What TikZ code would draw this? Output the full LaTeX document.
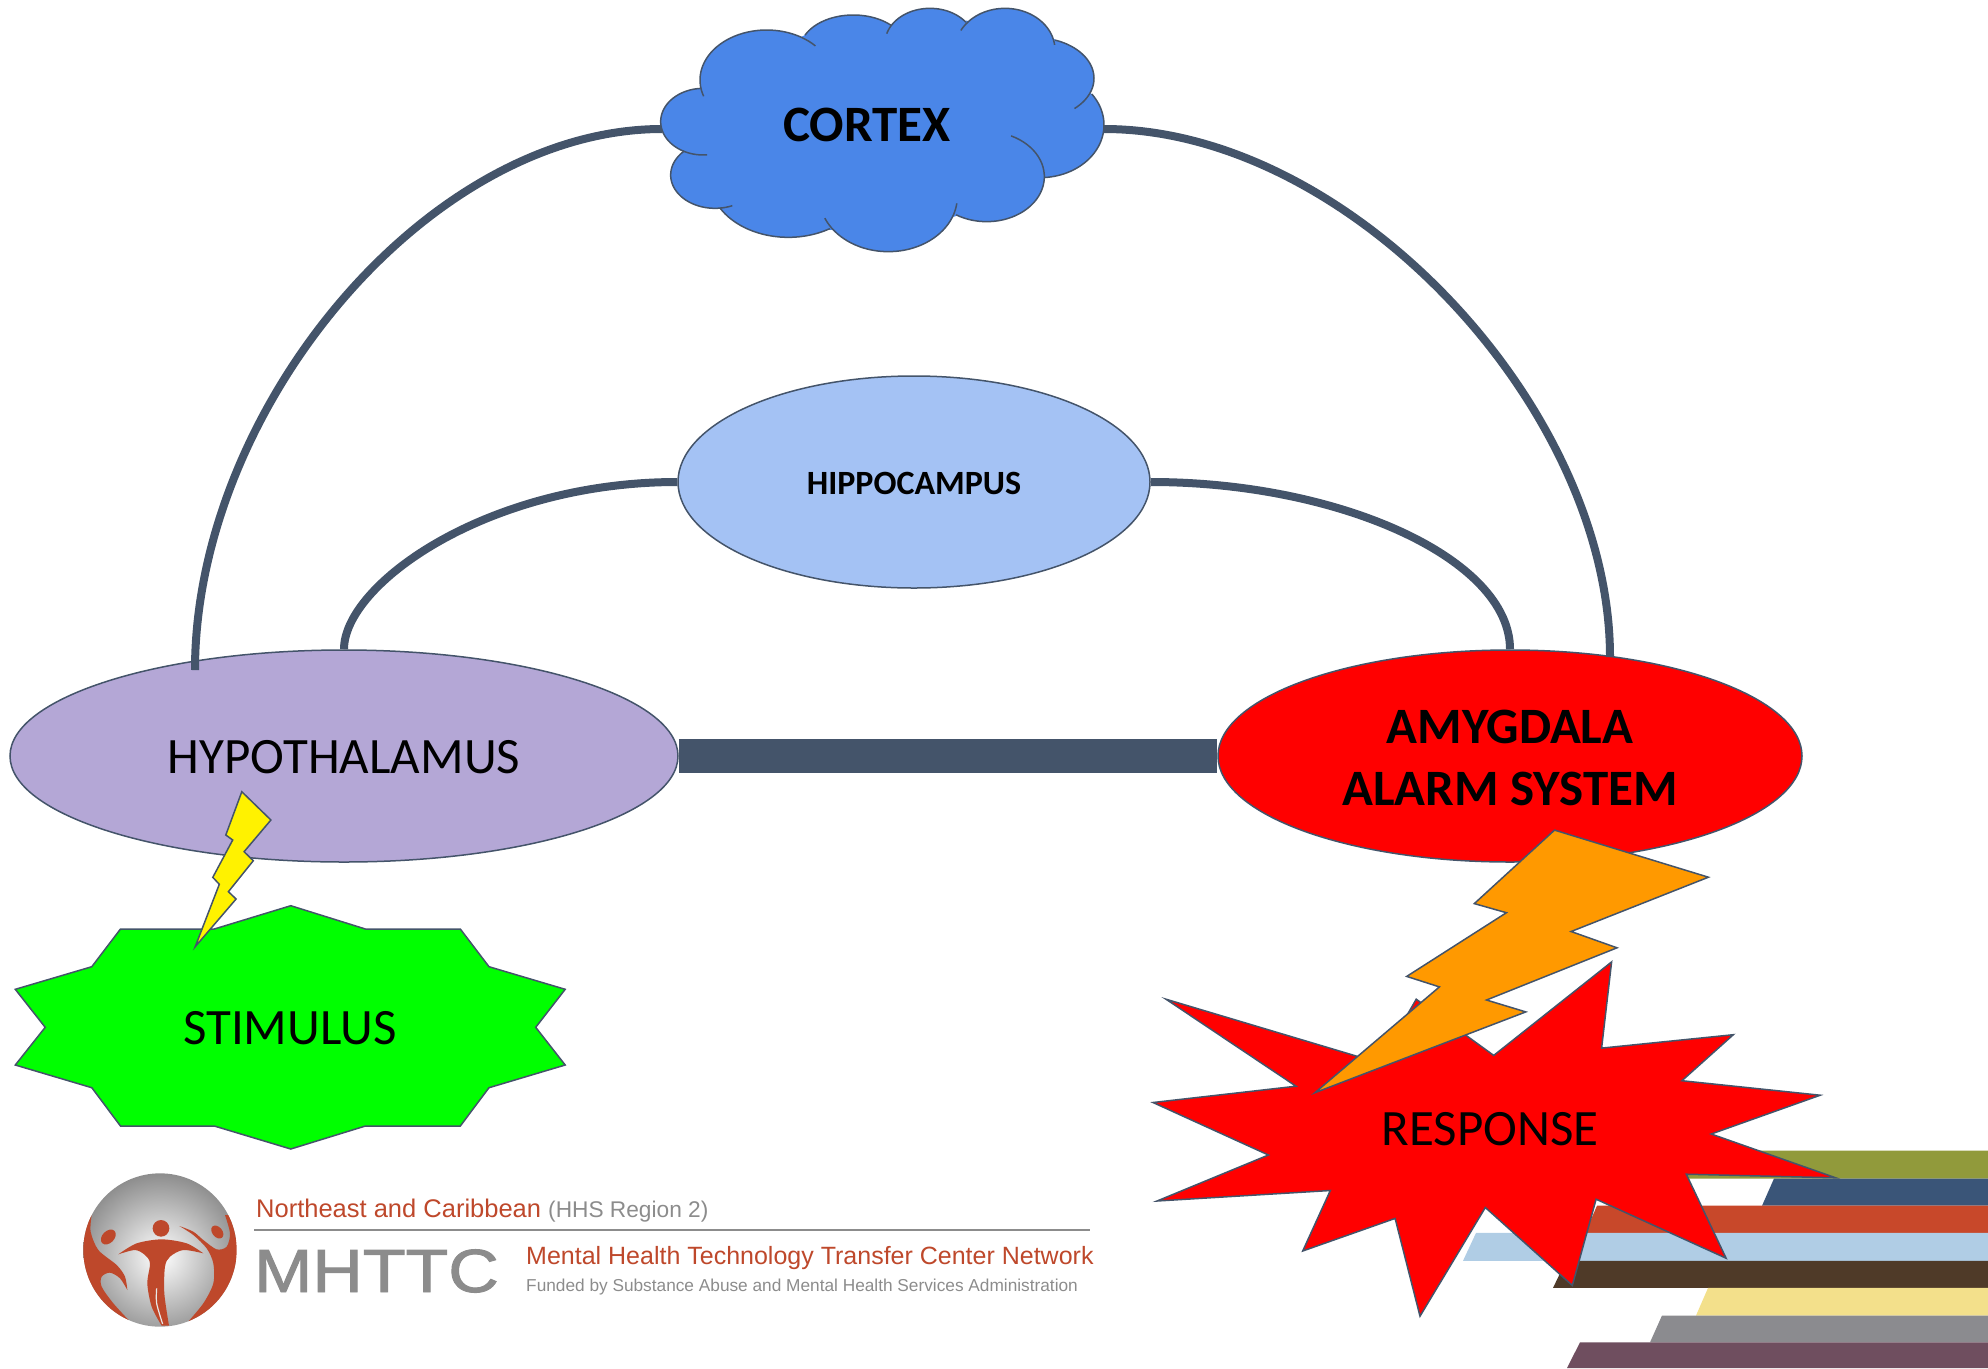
\documentclass[tikz,border=0pt]{standalone}
\usepackage{fontspec}
\setmainfont{Carlito}
\newfontfamily\logofont{Liberation Sans}
\newfontfamily\logoheavy[FakeBold=1.5]{Liberation Sans}
\usetikzlibrary{shapes.geometric}
\definecolor{slateLine}{HTML}{44546A}
\definecolor{cortexBlue}{HTML}{4A86E8}
\definecolor{hippoBlue}{HTML}{A4C2F4}
\definecolor{hypoPurple}{HTML}{B4A7D6}
\definecolor{boltOrange}{HTML}{FF9900}
\definecolor{logoRust}{HTML}{BE482B}
\definecolor{logoGray}{HTML}{8C8C8C}
\tikzset{%
  % Specifications for style of nodes:
     region/.style = {ellipse, draw=slateLine, line width=1.5pt, inner sep=0pt,
                      align=center},
   plainTxt/.style = {font=\fontsize{51}{60}\selectfont},
    boldTxt/.style = {font=\fontsize{51}{61.6}\selectfont\bfseries},
      burst/.style = {draw=slateLine, line width=1.5pt, line join=miter},
       link/.style = {draw=slateLine, line width=8pt},
    logoTxt/.style = {inner sep=0pt, anchor=base west},
}
\newcommand{\lowered}[2]{\raisebox{-#1pt}[\height][\depth]{#2}}
% lobes of the cloud: centre, radii, start and end angle
\newcommand{\cloudLobes}{%
  \lobe{380}{240}{200}{150}{161}{317}
  \lobe{640}{150}{160}{105}{205}{315}
  \lobe{870}{130}{135}{105}{196}{323}
  \lobe{1095}{150}{150}{125}{208}{353}
  \lobe{1185}{235}{177}{122}{290}{408}
  \lobe{1200}{375}{192}{158}{-36}{86}
  \lobe{1040}{530}{173}{135}{-65}{122}
  \lobe{745}{590}{207}{165}{7}{157}
  \lobe{445}{540}{235}{172}{58}{151}
  \lobe{225}{525}{133}{100}{67}{226}
  \lobe{190}{365}{128}{100}{85}{266}
}
\begin{document}
\begin{tikzpicture}[x=1pt, y=-1pt]
  \useasboundingbox (0,0) rectangle (1988,1368);
  % Colour bars at the lower right
  \foreach \ytop/\ybot/\xtop/\xbot/\barcol in {
      1150.6/1178.5/1698/1686/919A3B, 1178.5/1205.7/1774/1762/3A5578,
      1205.7/1232.9/1597/1585/C8482A, 1232.9/1260.8/1476/1463/B0CDE5,
      1260.8/1287.9/1566/1553/4F3A28, 1287.9/1315.5/1708/1696/F3E08B,
      1315.5/1342.3/1662/1650/8B8B8F, 1342.3/1368/1580/1567/6F4E5F}{
    \definecolor{barcol}{HTML}{\barcol}
    \fill[barcol] (\xtop,\ytop) -- (1988,\ytop) -- (1988,\ybot) -- (\xbot,\ybot) -- cycle;
  }
  % Specification of nodes (position, etc.)
  \node (hypothalamus) [region, fill=hypoPurple, minimum width=668pt, minimum height=212pt, plainTxt] at (344,756) {\lowered{1}{HYPOTHALAMUS}};
  \node (amygdala) [region, fill=red, minimum width=584pt, minimum height=212pt, boldTxt] at (1510,756) {\lowered{2}{AMYGDALA}\\\lowered{2}{ALARM SYSTEM}};
  \node (hippocampus) [region, fill=hippoBlue, minimum width=472pt, minimum height=212pt, font=\fontsize{34}{40}\selectfont\bfseries] at (914,482) {\lowered{1}{HIPPOCAMPUS}};
  \coordinate (hypoTop) at (195,670);
  \coordinate (amygTop) at (1610,657);
  \coordinate (cortexW) at (662,129);
  \coordinate (cortexE) at (1104,129);
  % Specification of lines between nodes specified above
  \draw[link] (hypoTop) .. controls +(0,-260) and +(-235,0) .. (cortexW);
  \draw[link] (cortexE) .. controls +(245,0) and +(0,-250) .. (amygTop);
  \draw[link] (hypothalamus.north) .. controls +(0,-65) and +(-190,0) .. (hippocampus.west);
  \draw[link] (hippocampus.east) .. controls +(190,0) and +(0,-90) .. (amygdala.north);
  \draw[draw=slateLine, line width=34pt] (hypothalamus.east) -- (amygdala.west);
  % Cortex cloud
  \begin{scope}[shift={(640,0)}, x=0.33333pt, y=-0.33333pt]
    \fill[cortexBlue] (190,268) -- (495,105) -- (752,78) -- (980,62) -- (1245,118) -- (1350,285)
      -- (1212,533) -- (943,650) -- (570,690) -- (240,622) -- (130,452) -- cycle;
    \def\lobe#1#2#3#4#5#6{\fill[cortexBlue] (#1,#2) ellipse[x radius=#3, y radius=#4];}
    \cloudLobes
    \def\lobe#1#2#3#4#5#6{\draw[slateLine, line width=1.5pt] plot[domain=#5:#6, samples=40] ({#1+#3*cos(\x)},{#2+#4*sin(\x)});}
    \cloudLobes
  \end{scope}
  \node (cortex) [font=\fontsize{51}{60}\selectfont\bfseries] at (867,125) {CORTEX};
  % Stimulus star and yellow bolt
  \draw[burst, fill=green] (290.8,905.7) -- (365.4,929) -- (460.3,929) -- (489,966.7) -- (565.2,989.3)
    -- (535.7,1027.3) -- (565.2,1065) -- (489,1087.7) -- (460.3,1126) -- (365.4,1126) -- (290.8,1149)
    -- (214.3,1126) -- (120.5,1126) -- (91.8,1087.7) -- (15.3,1065) -- (45.2,1027.3) -- (15.3,989.3)
    -- (91.8,966.7) -- (120.5,929) -- (214.3,929) -- cycle;
  \node (stimulus) [plainTxt] at (290,1028) {STIMULUS};
  \draw[burst, fill=yellow] (241.8,791.7) -- (270.9,820) -- (244.1,851.7) -- (253.3,860.7) -- (228.4,891.7)
    -- (236.1,899) -- (195.2,946.7) -- (219.3,884.3) -- (212.8,877.3) -- (232.7,840) -- (225.8,835) -- cycle;
  % Response star and orange bolt
  \draw[burst, fill=red] (1611.6,961.9) -- (1601.6,1048.1) -- (1733.3,1034.7) -- (1681.9,1080.7)
    -- (1820.2,1095.2) -- (1711.2,1134) -- (1835.7,1177.8) -- (1686.3,1174.2) -- (1726.1,1258.2)
    -- (1596.1,1199.2) -- (1572.3,1285.4) -- (1485.3,1207.5) -- (1420,1316.2) -- (1395.1,1218.4)
    -- (1302.7,1251) -- (1330.3,1190.5) -- (1157,1201) -- (1268.4,1155) -- (1153,1102.5)
    -- (1296,1086.2) -- (1166,999.2) -- (1379.6,1063) -- (1416.2,999.2) -- (1493.7,1055.4) -- cycle;
  \node (response) [plainTxt] at (1490,1129) {RESPONSE};
  \draw[burst, fill=boltOrange] (1554.5,830.1) -- (1708.4,877.2) -- (1571.1,931.5) -- (1617,947.8)
    -- (1486.5,1000) -- (1525.8,1011.9) -- (1314.9,1092.7) -- (1439.4,986.9) -- (1406.7,976.4)
    -- (1506.4,912.7) -- (1474.3,903.6) -- cycle;
  % Logo ball
  \begin{scope}[shift={(70,1160)}, x=0.33333pt, y=-0.33333pt]
    \clip (270,270) circle[radius=230];
    \shade[inner color=white, outer color=logoGray] (270,290) circle[radius=252];
    \fill[logoRust] plot[smooth] coordinates {(65,165)(62,215)(85,270)(140,315)(165,350)(172,390)}
      -- plot[smooth] coordinates {(172,390)(150,355)(120,338)(95,350)(95,380)(130,430)(185,490)}
      -- (20,490) -- (20,165) -- cycle;
    \fill[logoRust] plot[smooth] coordinates {(465,165)(480,220)(470,260)(440,268)(400,240)(370,215)(328,198)}
      -- plot[smooth] coordinates {(328,198)(370,225)(410,265)(430,310)(430,370)(400,430)(350,490)}
      -- (520,490) -- (520,165) -- cycle;
    \fill[logoRust] plot[smooth] coordinates {(145,283)(200,250)(275,238)(350,250)(400,280)}
      -- plot[smooth] coordinates {(400,280)(340,270)(300,290)(285,320)(283,400)(297,497)}
      -- plot[smooth] coordinates {(275,497)(245,440)(232,370)(240,310)(225,285)(195,270)(145,283)} -- cycle;
    \draw[white!80!logoGray, line width=1.2pt] plot[smooth] coordinates {(260,385)(260,430)(278,492)};
    \fill[logoRust] (273,205) circle[radius=25];
    \fill[logoRust, rotate around={45:(115,231)}] (115,231) ellipse[x radius=26, y radius=18];
    \fill[logoRust, rotate around={-50:(442,216)}] (442,216) ellipse[x radius=22, y radius=15];
  \end{scope}
  % Logo text
  \node (regionTxt) [logoTxt, font=\logofont\fontsize{25.5}{30}\selectfont, text=logoRust] at (256,1217)
    {Northeast and Caribbean \textcolor{logoGray}{\fontsize{22.7}{28}\selectfont (HHS Region 2)}};
  \coordinate (ruleL) at (254,1230);
  \coordinate (ruleR) at (1090,1230);
  \draw[logoGray, line width=2.5pt] (ruleL) -- (ruleR);
  \node (mhttc) [logoTxt, font=\logoheavy\fontsize{61}{70}\selectfont, text=logoGray] at (254,1292) {\scalebox{1.146}[1]{MHTTC}};
  \node (networkTxt) [logoTxt, font=\logofont\fontsize{25}{30}\selectfont, text=logoRust] at (526,1264) {Mental Health Technology Transfer Center Network};
  \node (fundedTxt) [logoTxt, font=\logofont\fontsize{17.26}{21}\selectfont, text=logoGray] at (526,1291) {Funded by Substance Abuse and Mental Health Services Administration};
\end{tikzpicture}
\end{document}
